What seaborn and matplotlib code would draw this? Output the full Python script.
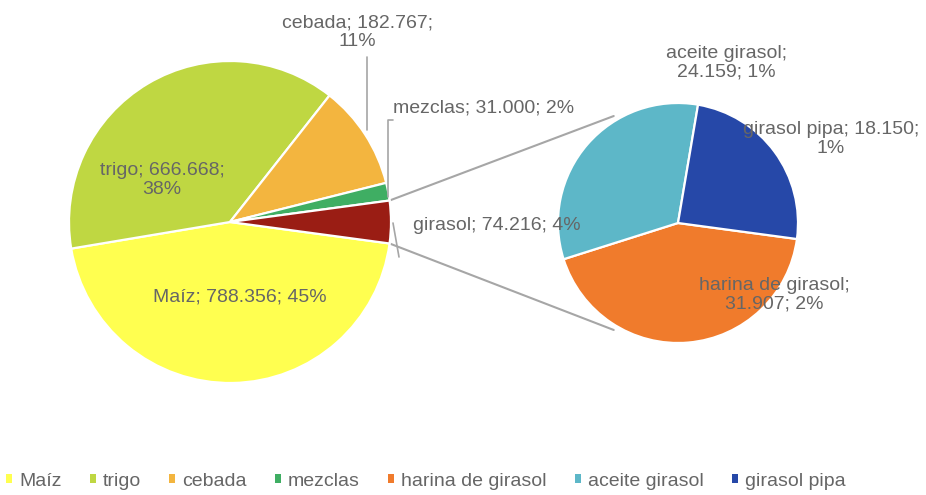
import matplotlib
matplotlib.use("Agg")
import matplotlib.pyplot as plt
from matplotlib.patches import Patch
import numpy as np
import seaborn as sns

# ---- data ----
main_labels = ["Maíz", "trigo", "cebada", "mezclas", "girasol"]
main_values = [788356, 666668, 182767, 31000, 74216]
main_pcts = [45, 38, 11, 2, 4]

sub_labels = ["harina de girasol", "aceite girasol", "girasol pipa"]
sub_values = [31907, 24159, 18150]
sub_pcts = [2, 1, 1]

legend_labels = ["Maíz", "trigo", "cebada", "mezclas",
                 "harina de girasol", "aceite girasol", "girasol pipa"]

# ---- styling ----
main_colors = ["#FFFF50", "#BFD742", "#F3B53F", "#3FAE63", "#9A1D14"]
sub_colors = ["#F07B2C", "#5DB7C8", "#2648A8"]
text_color = "#666666"
line_color = "#A6A6A6"

sns.set_theme(style="white")
plt.rcParams["font.family"] = ["Liberation Sans", "DejaVu Sans"]

W, H = 926, 495
fig = plt.figure(figsize=(W / 100, H / 100), dpi=100)
ax = fig.add_axes([0, 0, 1, 1])


def Y(ypx):
    return H - ypx


main_c = (230, Y(222))
main_r = 161
sub_c = (678, Y(223))
sub_r = 120

total = sum(main_values)
half = main_values[-1] / total * 360 / 2

wp = dict(edgecolor="white", linewidth=1.6)
main_w, _ = ax.pie(main_values, colors=main_colors, startangle=-half,
                   counterclock=False, radius=main_r, center=main_c,
                   wedgeprops=wp)
sub_w, _ = ax.pie(sub_values, colors=sub_colors, startangle=-half,
                  counterclock=False, radius=sub_r, center=sub_c,
                  wedgeprops=wp)


def fmt(v):
    return f"{v:,}".replace(",", ".")


def lab(name, v, p, breaks):
    parts = [name + ";", fmt(v) + ";", f"{p}%"]
    s = parts[0]
    for i, part in enumerate(parts[1:], start=1):
        s += ("\n" if i in breaks else " ") + part
    return s


fs = 14
# main pie labels: (x_px, y_px, ha, break positions)
main_layout = [
    (240, 297, "center", ()),
    (162, 180, "center", (2,)),
    (357, 32, "center", (2,)),
    (393, 108, "left", ()),
    (413, 226, "left", ()),
]
for name, v, p, (x, y, ha, br) in zip(main_labels, main_values, main_pcts, main_layout):
    ax.text(x, Y(y), lab(name, v, p, br), ha=ha, va="center", fontsize=fs,
            color=text_color, linespacing=1.1)

sub_layout = [
    (774, 295, "center", (1,)),
    (726, 63, "center", (1,)),
    (831, 139, "center", (2,)),
]
for name, v, p, (x, y, ha, br) in zip(sub_labels, sub_values, sub_pcts, sub_layout):
    ax.text(x, Y(y), lab(name, v, p, br), ha=ha, va="center", fontsize=fs,
            color=text_color, linespacing=1.1)

# leader lines
ax.plot([367, 367], [Y(57), Y(130)], color=line_color, lw=1.2)
ax.plot([393, 388, 388], [Y(120), Y(120), Y(197)], color=line_color, lw=1.2)
ax.plot([393, 399], [Y(223), Y(257)], color=line_color, lw=1.2)

# connector lines between the pies
a = np.deg2rad(half)
b = np.deg2rad(121)
for s in (1, -1):
    x0 = main_c[0] + main_r * np.cos(a)
    y0 = main_c[1] + s * main_r * np.sin(a)
    x1 = sub_c[0] + sub_r * 1.04 * np.cos(b)
    y1 = sub_c[1] + s * sub_r * 1.04 * np.sin(b)
    ax.plot([x0, x1], [y0, y1], color=line_color, lw=1.5, zorder=0)

ax.set_xlim(0, W)
ax.set_ylim(0, H)
ax.set_aspect("equal")
ax.axis("off")

all_colors = main_colors[:4] + sub_colors
handles = [Patch(facecolor=c, edgecolor="none") for c in all_colors]
fig.legend(handles, legend_labels, loc="center left",
           bbox_to_anchor=(-0.002, 1 - 481 / H), ncol=7, frameon=False,
           fontsize=14, handlelength=0.32, handleheight=0.32,
           handletextpad=0.35, columnspacing=1.45, labelcolor=text_color,
           borderaxespad=0.0)

fig.savefig("out.png", dpi=100, facecolor="white")
